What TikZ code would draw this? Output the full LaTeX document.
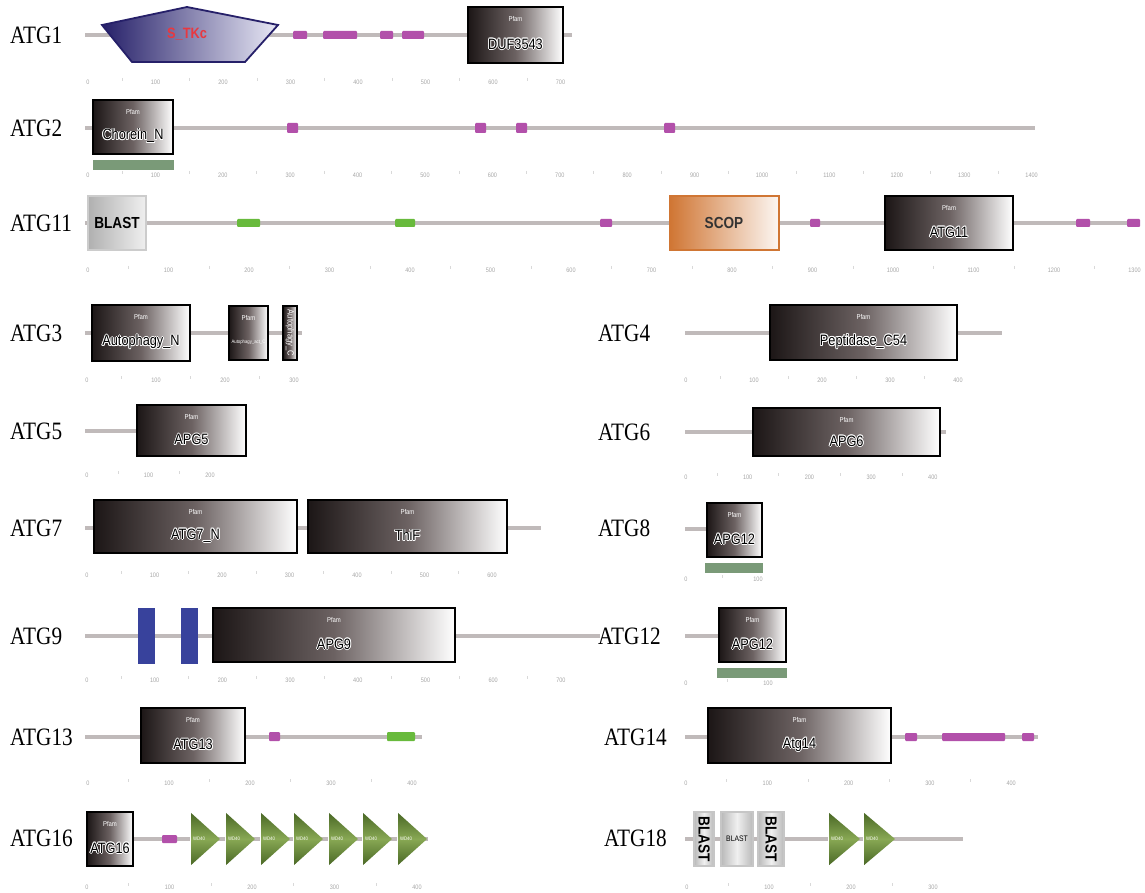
\documentclass[tikz,border=0pt]{standalone}
\usepackage{fontspec}
\setmainfont{Liberation Serif}
\newfontfamily\labfont{Liberation Serif}[FakeStretch=0.85]
\newfontfamily\domfont{Liberation Sans}[FakeStretch=0.85]
\definecolor{bbgray}{RGB}{192,186,186}
\definecolor{mag}{RGB}{178,80,170}
\definecolor{lgreen}{RGB}{104,186,60}
\definecolor{sage}{RGB}{122,154,120}
\definecolor{tmblue}{RGB}{56,66,156}
\definecolor{navy}{RGB}{38,32,105}
\definecolor{lav}{RGB}{232,232,245}
\definecolor{scop}{RGB}{208,118,52}
\definecolor{wdark}{RGB}{72,102,36}
\definecolor{wlight}{RGB}{136,168,84}
\definecolor{pdark}{RGB}{28,22,22}
\definecolor{pmid}{RGB}{108,98,98}
\definecolor{tkred}{RGB}{232,56,64}
% scale under each protein: id, x of 0, px per 100 aa, last index, y
\newcommand{\ruler}[5]{%
  \foreach \k in {0,...,#4}{%
    \pgfmathtruncatemacro{\v}{100*\k}%
    \node[tickl] (#1-\k) at ({#2+#3*\k},#5) {\v};
    \ifnum\k<#4 \draw[minor] ({#2+#3*(\k+0.5)},{#5-4}) -- ++(0,3);\fi}}
% text with a white rim
\newcommand{\halo}[3]{%
  \foreach \dx/\dy [count=\i] in {-.9/0,.9/0,0/-.9,0/.9,-.65/-.65,.65/.65,-.65/.65,.65/-.65}
    \node[pname,text=white,xshift=\dx pt,yshift=\dy pt] (#1-h\i) at (#2) {#3};
  \node[pname] (#1) at (#2) {#3};}
% Pfam domain: id, x1, y1, x2, y2, name
\newcommand{\pfambox}[6]{%
  \path[pfam] (#2,#3) rectangle (#4,#5);
  \node[ptag] (#1-tag) at ({(#2+#4)/2},{#3+12}) {Pfam};
  \halo{#1}{{(#2+#4)/2},{(#3+#5)/2+9}}{#6}}
\begin{document}
\begin{tikzpicture}[x=1pt,y=-1pt,
  bb/.style={draw=bbgray,line width=4.5pt},
  pfam/.style={draw=black,line width=1.7pt,left color=pdark,right color=white,middle color=pmid},
  blastbox/.style={draw=gray!45,line width=1.8pt,left color=gray!55,right color=gray!55,middle color=gray!12},
  blastl/.style={draw=gray!40,line width=1.8pt,left color=gray!62,right color=gray!12},
  scopbox/.style={draw=scop,line width=1.8pt,left color=scop,right color=scop!6},
  stk/.style={draw=navy,line width=1.8pt,left color=navy,right color=lav},
  wd/.style={top color=wdark,bottom color=wdark,middle color=wlight},
  mg/.style={fill=mag,rounded corners=1pt},
  gr/.style={fill=lgreen,rounded corners=1pt},
  bar/.style={fill=sage},
  tm/.style={fill=tmblue},
  minor/.style={draw=gray!30,line width=0.4pt},
  gname/.style={anchor=west,inner sep=0,font=\labfont\fontsize{25}{25}\selectfont},
  ptag/.style={inner sep=0,text=white,font=\domfont\fontsize{7}{7}\selectfont},
  pname/.style={inner sep=0,text=black,font=\domfont\fontsize{15}{15}\selectfont},
  bname/.style={inner sep=0,text=black,font=\domfont\bfseries\fontsize{16}{16}\selectfont},
  wdtxt/.style={inner sep=0,text=white,font=\domfont\fontsize{5}{5}\selectfont},
  tickl/.style={inner sep=0,text=gray!70,font=\domfont\fontsize{6.5}{6.5}\selectfont}]
\useasboundingbox (0,0) rectangle (1145,893);

% gene names
\node[gname] (g1) at (10,35) {ATG1};
\node[gname] (g2) at (10,128) {ATG2};
\node[gname] (g11) at (10,223) {ATG11};
\node[gname] (g3) at (10,333) {ATG3};
\node[gname] (g4) at (598,333) {ATG4};
\node[gname] (g5) at (10,431) {ATG5};
\node[gname] (g6) at (598,432) {ATG6};
\node[gname] (g7) at (10,528) {ATG7};
\node[gname] (g8) at (598,528) {ATG8};
\node[gname] (g9) at (10,636) {ATG9};
\node[gname] (g12) at (598,636) {ATG12};
\node[gname] (g13) at (10,737) {ATG13};
\node[gname] (g14) at (604,737) {ATG14};
\node[gname] (g16) at (10,838) {ATG16};
\node[gname] (g18) at (604,838) {ATG18};

% backbones
\draw[bb] (85,35) -- (572,35);
\draw[bb] (85,128) -- (1035,128);
\draw[bb] (85,223) -- (1140,223);
\draw[bb] (85,333) -- (302,333);
\draw[bb] (685,333) -- (1002,333);
\draw[bb] (85,431) -- (137,431);
\draw[bb] (685,432) -- (946,432);
\draw[bb] (85,528) -- (541,528);
\draw[bb] (685,529) -- (707,529);
\draw[bb] (85,636) -- (600,636);
\draw[bb] (685,636) -- (718,636);
\draw[bb] (85,737) -- (422,737);
\draw[bb] (685,737) -- (1038,737);
\draw[bb] (87,839) -- (428,839);
\draw[bb] (685,839) -- (963,839);

% ATG1
\path[stk] (102,25) -- (187,7) -- (278,25) -- (245,62) -- (132,62) -- cycle;
\node[pname,text=tkred,font=\domfont\bfseries\fontsize{15}{15}\selectfont] (stkc) at (187,34) {S\_TKc};
\foreach \a/\b in {293/307,323/357,380/393,402/424}
  \path[mg] (\a,31) rectangle (\b,39);
\pfambox{duf}{468}{7}{563}{63}{DUF3543}
\ruler{r1}{88}{67.5}{7}{82}

% ATG2
\pfambox{cho}{93}{100}{173}{154}{Chorein\_N}
\path[bar] (93,160) rectangle (174,170);
\foreach \a in {287,475,516,664}
  \path[mg] (\a,123) rectangle ({\a+11},133);
\ruler{r2}{88}{67.4}{14}{175}

% ATG11
\path[blastl] (88,196) rectangle (146,250);
\node[bname] (bl11) at (117,223) {BLAST};
\path[gr] (237,219) rectangle (260,227);
\path[gr] (395,219) rectangle (415,227);
\foreach \a/\b in {600/612,810/820,1076/1090,1127/1140}
  \path[mg] (\a,219) rectangle (\b,227);
\path[scopbox] (670,196) rectangle (779,250);
\node[bname,text=black!80] (scop) at (724,223) {SCOP};
\pfambox{a11}{885}{196}{1013}{250}{ATG11}
\ruler{r11}{88}{80.5}{13}{270}

% ATG3
\pfambox{autn}{92}{305}{190}{361}{Autophagy\_N}
\path[pfam] (229,306) rectangle (268,360);
\node[ptag] (act-tag) at (248.5,318) {Pfam};
\node[ptag,font=\domfont\fontsize{5}{5}\selectfont] (act) at (248.5,342) {Autophagy\_act\_C};
\path[pfam] (283,306) rectangle (297,360);
\node[pname,text=white,rotate=-90,font=\domfont\fontsize{9}{9}\selectfont] (autc) at (290,333) {Autophagy\_C};
\ruler{r3}{87}{69}{3}{380}

% ATG4
\pfambox{pep}{770}{305}{957}{360}{Peptidase\_C54}
\ruler{r4}{686}{68}{4}{380}

% ATG5, ATG6
\pfambox{apg5}{137}{405}{246}{456}{APG5}
\ruler{r5}{87}{61.5}{2}{475}
\pfambox{apg6}{753}{408}{940}{456}{APG6}
\ruler{r6}{686}{61.7}{4}{477}

% ATG7, ATG8
\pfambox{a7n}{94}{500}{297}{553}{ATG7\_N}
\pfambox{thif}{308}{500}{507}{553}{ThiF}
\ruler{r7}{87}{67.5}{6}{575}
\pfambox{apg8}{707}{503}{762}{557}{APG12}
\path[bar] (705,563) rectangle (763,573);
\ruler{r8}{686}{72}{1}{579}

% ATG9, ATG12
\path[tm] (138,608) rectangle (155,664);
\path[tm] (181,608) rectangle (198,664);
\pfambox{apg9}{213}{608}{455}{662}{APG9}
\ruler{r9}{87}{67.7}{7}{680}
\pfambox{apg12}{719}{608}{786}{662}{APG12}
\path[bar] (717,668) rectangle (787,678);
\ruler{r12}{686}{82}{1}{683}

% ATG13, ATG14
\pfambox{a13}{141}{708}{245}{763}{ATG13}
\path[mg] (269,732) rectangle (280,741);
\path[gr] (387,732) rectangle (415,741);
\ruler{r13}{88}{81}{4}{783}
\pfambox{a14}{708}{708}{891}{763}{Atg14}
\foreach \a/\b in {905/917,942/1005,1022/1034}
  \path[mg] (\a,733) rectangle (\b,741);
\ruler{r14}{686}{81.3}{4}{783}

% ATG16
\pfambox{a16}{87}{812}{133}{866}{ATG16}
\path[mg] (162,835) rectangle (177,843);
\foreach \x in {190,225,260,293,328,362,397}{
  \path[wd] (\x,812) -- ({\x+30},839) -- (\x,866) -- cycle;
  \draw[white,line width=0.8pt] (\x,812) -- (\x,866);
  \node[wdtxt] (wd\x) at ({\x+9},839) {WD40};}
\ruler{r16}{87}{82.5}{4}{887}

% ATG18
\path[blastbox] (694,812) rectangle (714,866);
\node[bname,rotate=-90] (bl1) at (704,839) {BLAST};
\path[blastbox] (721,812) rectangle (753,866);
\node[pname,font=\domfont\fontsize{8}{8}\selectfont] (bl2) at (737,839) {BLAST};
\path[blastbox] (758,812) rectangle (784,866);
\node[bname,rotate=-90] (bl3) at (771,839) {BLAST};
\foreach \x in {828,863}{
  \path[wd] (\x,812) -- ({\x+32},839) -- (\x,866) -- cycle;
  \draw[white,line width=0.8pt] (\x,812) -- (\x,866);
  \node[wdtxt] (wd\x) at ({\x+9},839) {WD40};}
\ruler{r18}{687}{82}{3}{887}
\end{tikzpicture}
\end{document}
